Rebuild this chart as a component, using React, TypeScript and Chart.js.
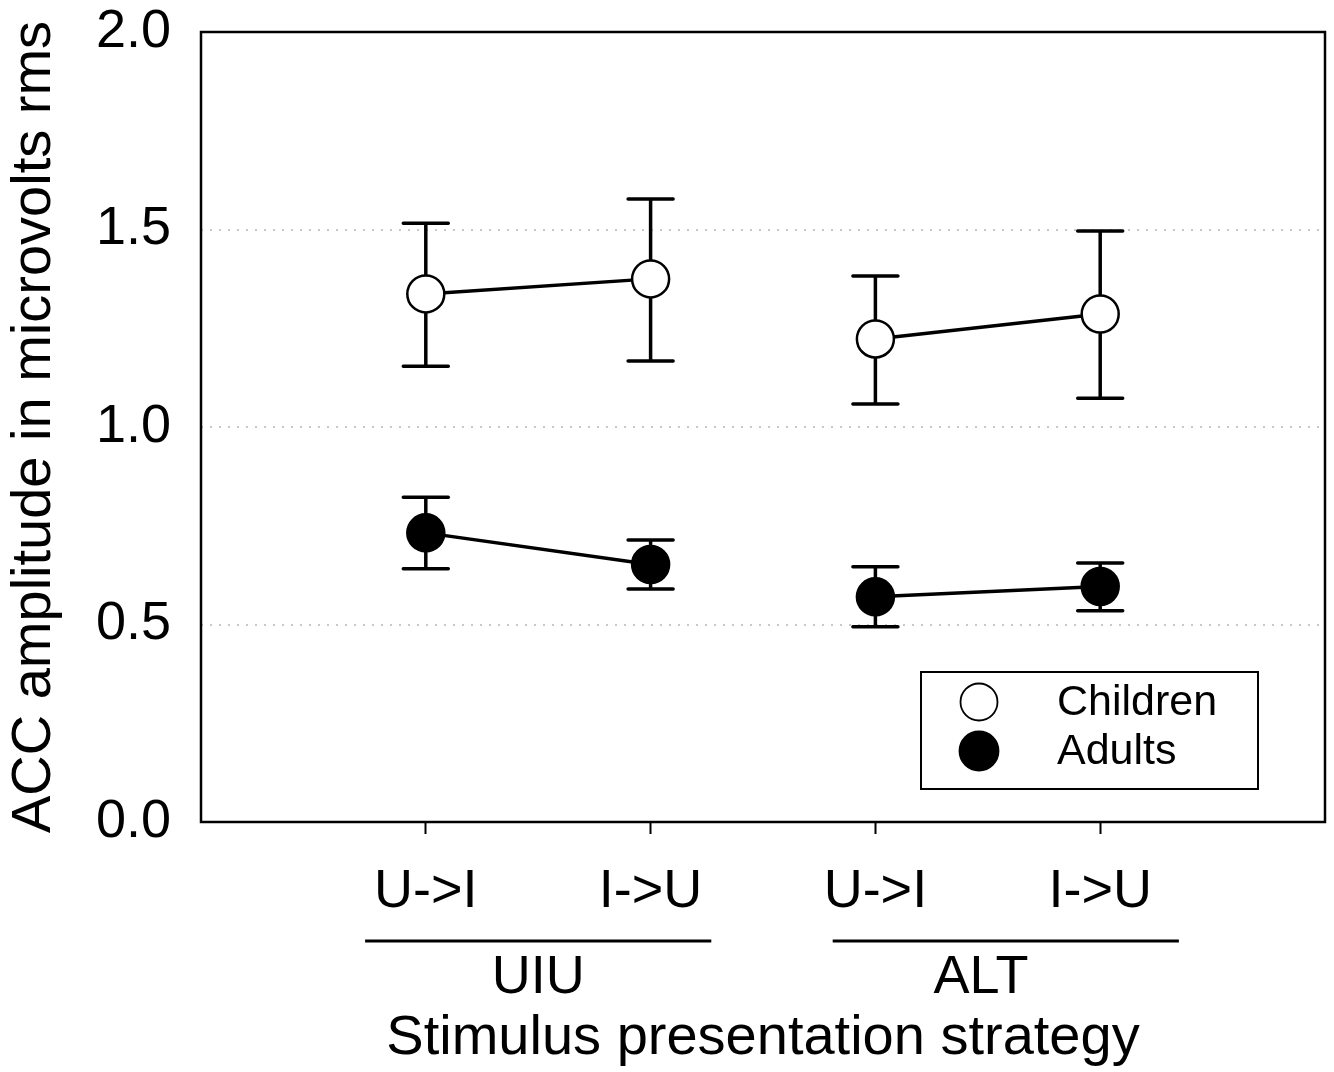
import React, { useEffect, useRef } from "react";
import { Chart, registerables } from "chart.js";

Chart.register(...registerables);

// ---- data ----
const categories = ["U->I", "I->U", "U->I", "I->U"];
const categoryX = [1, 2, 3, 4];
const groupOf = ["UIU", "UIU", "ALT", "ALT"];
const groupNames = ["UIU", "ALT"];
const groupLabelX = [1.5, 3.47];
const groupLineFrom = [0.73, 2.81];
const groupLineTo = [2.27, 4.35];

const childrenMean = [1.337, 1.375, 1.223, 1.286];
const childrenUpper = [1.516, 1.577, 1.382, 1.496];
const childrenLower = [1.154, 1.167, 1.058, 1.073];

const adultsMean = [0.732, 0.652, 0.57, 0.596];
const adultsUpper = [0.822, 0.714, 0.646, 0.656];
const adultsLower = [0.641, 0.59, 0.494, 0.535];

const seriesNames = ["Children", "Adults"];
const yTickValues = [0, 0.5, 1.0, 1.5, 2.0];

const yTitle = "ACC amplitude in microvolts rms";
const xTitle = "Stimulus presentation strategy";

const FONT = '"Liberation Sans", Arial, Helvetica, sans-serif';

const errorBars: Record<string, { up: number[]; lo: number[] }> = {
  Children: { up: childrenUpper, lo: childrenLower },
  Adults: { up: adultsUpper, lo: adultsLower },
};

const zeroPad = (scale: any) => {
  scale.paddingTop = 0;
  scale.paddingBottom = 0;
  scale.paddingLeft = 0;
  scale.paddingRight = 0;
};

const decorPlugin = {
  id: "decor",
  beforeDatasetsDraw(chart: any) {
    const { ctx, chartArea: ca } = chart;
    const x = chart.scales.x;
    const y = chart.scales.y;
    ctx.save();
    // frame
    ctx.strokeStyle = "#000";
    ctx.lineWidth = 2.5;
    ctx.strokeRect(ca.left, ca.top, ca.right - ca.left, ca.bottom - ca.top);
    // error bars
    ctx.lineWidth = 3.5;
    chart.data.datasets.forEach((ds: any) => {
      const eb = errorBars[ds.label];
      if (!eb) return;
      ds.data.forEach((p: any, i: number) => {
        const px = x.getPixelForValue(p.x);
        const yU = y.getPixelForValue(eb.up[i]);
        const yL = y.getPixelForValue(eb.lo[i]);
        ctx.lineCap = "butt";
        ctx.beginPath();
        ctx.moveTo(px, yU);
        ctx.lineTo(px, yL);
        ctx.stroke();
        ctx.lineCap = "round";
        ctx.beginPath();
        ctx.moveTo(px - 22.5, yU);
        ctx.lineTo(px + 22.5, yU);
        ctx.moveTo(px - 22.5, yL);
        ctx.lineTo(px + 22.5, yL);
        ctx.stroke();
      });
    });
    ctx.restore();
  },
  afterDraw(chart: any) {
    const { ctx, chartArea: ca } = chart;
    const x = chart.scales.x;
    ctx.save();
    // group lines and labels
    ctx.strokeStyle = "#000";
    ctx.lineWidth = 3;
    groupNames.forEach((g, i) => {
      const y0 = ca.bottom + 119;
      ctx.beginPath();
      ctx.moveTo(x.getPixelForValue(groupLineFrom[i]), y0);
      ctx.lineTo(x.getPixelForValue(groupLineTo[i]), y0);
      ctx.stroke();
      ctx.fillStyle = "#000";
      ctx.font = `54px ${FONT}`;
      ctx.textAlign = "center";
      ctx.textBaseline = "middle";
      ctx.fillText(g, x.getPixelForValue(groupLabelX[i]), ca.bottom + 156);
    });
    // legend
    const lx0 = ca.right - 404;
    const lx1 = ca.right - 67;
    const ly0 = ca.bottom - 150;
    const ly1 = ca.bottom - 33;
    ctx.lineWidth = 2;
    ctx.fillStyle = "#fff";
    ctx.fillRect(lx0, ly0, lx1 - lx0, ly1 - ly0);
    ctx.strokeRect(lx0, ly0, lx1 - lx0, ly1 - ly0);
    const rows = [ly0 + 30, ly0 + 79];
    seriesNames.forEach((name, i) => {
      const cx = lx0 + 58;
      const cy = rows[i];
      ctx.beginPath();
      ctx.arc(cx, cy, i === 0 ? 18.5 : 19.5, 0, Math.PI * 2);
      ctx.fillStyle = i === 0 ? "#fff" : "#000";
      ctx.fill();
      ctx.lineWidth = 1.8;
      ctx.strokeStyle = "#000";
      ctx.stroke();
      ctx.fillStyle = "#000";
      ctx.font = `43px ${FONT}`;
      ctx.textAlign = "left";
      ctx.textBaseline = "middle";
      ctx.fillText(name, lx0 + 136, cy + 1);
    });
    ctx.restore();
  },
};

export default function App() {
  const ref = useRef<HTMLCanvasElement | null>(null);

  useEffect(() => {
    document.body.style.margin = "0";
    const canvas = ref.current;
    if (!canvas) return;

    const mk = (means: number[]) => means.map((v, i) => ({ x: categoryX[i], y: v }));
    const segColor = (c: any) =>
      groupOf[c.p0DataIndex] === groupOf[c.p1DataIndex] ? "#000" : "rgba(0,0,0,0)";

    const chart = new Chart(canvas, {
      type: "line",
      data: {
        datasets: [
          {
            label: seriesNames[0],
            data: mk(childrenMean),
            borderColor: "#000",
            borderWidth: 3.5,
            pointRadius: 18.5,
            pointBorderWidth: 2.5,
            pointBackgroundColor: "#fff",
            pointBorderColor: "#000",
            segment: { borderColor: segColor },
          },
          {
            label: seriesNames[1],
            data: mk(adultsMean),
            borderColor: "#000",
            borderWidth: 3.5,
            pointRadius: 18.5,
            pointBorderWidth: 2.5,
            pointBackgroundColor: "#000",
            pointBorderColor: "#000",
            segment: { borderColor: segColor },
          },
        ],
      },
      options: {
        responsive: false,
        animation: false,
        layout: { autoPadding: false, padding: { top: 32, right: 9, left: 0, bottom: 0 } },
        plugins: {
          legend: { display: false },
          tooltip: { enabled: false },
        },
        scales: {
          x: {
            type: "linear",
            min: 0,
            max: 5,
            afterBuildTicks: (scale: any) => {
              scale.ticks = categoryX.map((v) => ({ value: v }));
            },
            afterFit: (scale: any) => {
              scale.height = 250;
              zeroPad(scale);
            },
            ticks: {
              autoSkip: false,
              maxRotation: 0,
              padding: 26,
              color: "#000",
              font: { family: FONT, size: 54 },
              callback: (v: any) => {
                const i = categoryX.indexOf(Number(v));
                return i >= 0 ? categories[i] : "";
              },
            },
            grid: {
              display: true,
              drawOnChartArea: false,
              drawTicks: true,
              tickLength: 12,
              tickWidth: 2,
              tickColor: "#000",
            },
            border: { display: false },
            title: {
              display: true,
              text: xTitle,
              color: "#000",
              font: { family: FONT, size: 56 },
              padding: { top: 0, bottom: 0 },
            },
          },
          y: {
            type: "linear",
            min: 0,
            max: 2,
            afterBuildTicks: (scale: any) => {
              scale.ticks = yTickValues.map((v) => ({ value: v }));
            },
            afterFit: (scale: any) => {
              scale.width = 201;
              zeroPad(scale);
            },
            ticks: {
              padding: 30,
              color: "#000",
              font: { family: FONT, size: 54 },
              callback: (v: any) => Number(v).toFixed(1),
            },
            grid: {
              drawTicks: false,
              lineWidth: 2,
              color: (c: any) =>
                c.tick && c.tick.value > 0 && c.tick.value < 2 ? "#c8c8c8" : "rgba(0,0,0,0)",
            },
            border: { display: false, dash: [2, 7] },
            title: {
              display: true,
              text: yTitle,
              color: "#000",
              font: { family: FONT, size: 56 },
              padding: { top: 1, bottom: 0 },
            },
          },
        },
      },
      plugins: [decorPlugin],
    } as any);

    return () => chart.destroy();
  }, []);

  return (
    <div style={{ position: "absolute", left: 0, top: 0, width: 1334, height: 1072, background: "#fff" }}>
      <canvas ref={ref} width={1334} height={1072} />
    </div>
  );
}
